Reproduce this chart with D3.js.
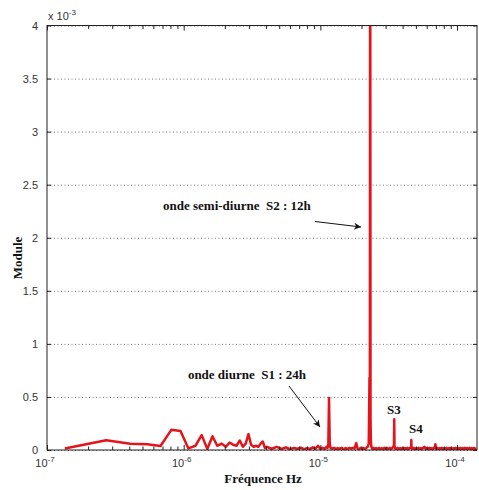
<!DOCTYPE html>
<html>
<head>
<meta charset="utf-8">
<script src="https://d3js.org/d3.v7.min.js"></script>
<style>
body { margin: 0; background: #fff; }
.tick text, .lbl { font-family: 'Liberation Sans', Arial, sans-serif; font-size: 11px; fill: #333; }
.ann { font-family: 'Liberation Serif', 'Times New Roman', serif; font-weight: bold; font-size: 13px; fill: #111; white-space: pre; }
</style>
</head>
<body>
<svg id="chart" width="479" height="490"></svg>
<script>
// spectrum: frequency in micro-Hz, module in units of 1e-3
const freqLow = [0.135, 0.271, 0.406, 0.542, 0.677, 0.812, 0.948, 1.083, 1.219, 1.354,
  1.489, 1.625, 1.760, 1.896, 2.031, 2.166, 2.302, 2.437, 2.573, 2.708,
  2.843, 2.979, 3.114, 3.250, 3.385, 3.520, 3.656, 3.791, 3.927, 4.062];
const moduleLow = [0.015, 0.092, 0.058, 0.055, 0.038, 0.19, 0.18, 0.015, 0.04, 0.14,
  0.01, 0.13, 0.04, 0.06, 0.03, 0.07, 0.05, 0.04, 0.09, 0.03,
  0.06, 0.15, 0.05, 0.03, 0.04, 0.03, 0.06, 0.08, 0.02, 0.03];

const freqHigh = [4.4, 4.8, 5.2, 5.6, 6.0, 6.4, 6.8, 7.2, 7.6, 8.0, 8.4, 8.8, 9.2, 9.6, 10.0, 10.4, 10.8,
  11.1, 11.3, 11.44, 11.57, 11.71, 11.85, 12.2, 12.6, 13.0, 13.4, 13.8, 14.3, 14.8, 15.3, 15.8, 16.3,
  16.8, 17.3, 17.8, 18.3, 18.7, 19.2, 19.7, 20.2, 20.7, 21.2, 21.7, 22.2, 22.6, 22.88, 23.02, 23.15,
  23.29, 23.42, 23.6, 24.0, 24.5, 25.0, 25.6, 26.2, 26.8, 27.4, 28.0, 28.7, 29.4, 30.1, 30.8, 31.5,
  32.2, 32.9, 33.6, 34.2, 34.58, 34.72, 34.86, 35.2, 36.0, 36.8, 37.6, 38.4, 39.2, 40.0, 40.8, 41.6,
  42.4, 43.2, 44.0, 44.8, 45.6, 46.16, 46.3, 46.44, 47.2, 48.2, 49.2, 50.2, 51.2, 52.2, 53.2, 54.2,
  55.2, 56.4, 57.87, 59.0, 60.2, 61.4, 62.6, 63.8, 65.0, 66.2, 67.4, 68.6, 69.44, 70.4, 71.8, 73.2,
  74.6, 76.0, 77.5, 79.0, 80.6, 82.2, 83.8, 85.5, 87.2, 88.9, 90.6, 92.4, 94.2, 96.0, 97.9, 99.8,
  101.7, 103.7, 105.7, 107.8, 109.9, 112.0, 114.2, 116.4, 118.7, 121.0, 123.4, 125.8, 128.3, 130.8,
  133.4, 136.0, 138.9];
const moduleHigh = [0.012, 0.03, 0.01, 0.025, 0.008, 0.02, 0.012, 0.022, 0.008, 0.018, 0.01, 0.025, 0.012, 0.04, 0.01, 0.02, 0.012,
  0.03, 0.02, 0.06, 0.49, 0.07, 0.02, 0.012, 0.02, 0.008, 0.018, 0.01, 0.02, 0.008, 0.018, 0.01, 0.02,
  0.012, 0.02, 0.015, 0.065, 0.015, 0.008, 0.02, 0.01, 0.018, 0.008, 0.02, 0.03, 0.06, 0.68, 0.15, 6.0,
  0.3, 0.09, 0.03, 0.012, 0.02, 0.008, 0.018, 0.01, 0.02, 0.008, 0.018, 0.01, 0.02, 0.008, 0.018, 0.01,
  0.02, 0.008, 0.02, 0.03, 0.05, 0.29, 0.04, 0.015, 0.01, 0.02, 0.008, 0.018, 0.01, 0.02, 0.008, 0.018,
  0.01, 0.02, 0.008, 0.018, 0.02, 0.03, 0.094, 0.025, 0.01, 0.02, 0.008, 0.018, 0.01, 0.02, 0.008, 0.018,
  0.01, 0.02, 0.03, 0.01, 0.018, 0.008, 0.02, 0.01, 0.018, 0.008, 0.02, 0.02, 0.055, 0.012, 0.02, 0.008,
  0.018, 0.01, 0.02, 0.008, 0.018, 0.01, 0.02, 0.008, 0.018, 0.01, 0.02, 0.008, 0.018, 0.01, 0.02, 0.012,
  0.018, 0.008, 0.02, 0.01, 0.018, 0.008, 0.02, 0.01, 0.018, 0.008, 0.02, 0.01, 0.018, 0.008,
  0.02, 0.01, 0.015];

const yTicks = [0, 0.5, 1, 1.5, 2, 2.5, 3, 3.5, 4];
const xDecades = [-7, -6, -5, -4];
const xDomain = [1e-7, 1.4e-4];
const yDomain = [0, 4];

const notes = [
  { text: 'onde semi-diurne  S2 : 12h', x: 163, y: 210, anchor: 'start' },
  { text: 'onde diurne  S1 : 24h', x: 306, y: 379, anchor: 'end' },
  { text: 'S3', x: 387, y: 414, anchor: 'start' },
  { text: 'S4', x: 409, y: 433, anchor: 'start' }
];

const L = 47, R = 477, T = 25.5, B = 450;
const svg = d3.select('#chart');

const x = d3.scaleLog().domain(xDomain).range([L, R]);
const y = d3.scaleLinear().domain(yDomain).range([B, T]);

const points = freqLow.map((f, i) => [f * 1e-6, moduleLow[i]])
  .concat(freqHigh.map((f, i) => [f * 1e-6, moduleHigh[i]]));

svg.append('defs').append('clipPath').attr('id', 'clip')
  .append('rect').attr('x', L).attr('y', T).attr('width', R - L).attr('height', B - T);

// arrow marker
svg.select('defs').append('marker')
  .attr('id', 'arr').attr('viewBox', '0 0 10 10').attr('refX', 10).attr('refY', 5)
  .attr('markerWidth', 9).attr('markerHeight', 7).attr('orient', 'auto')
  .attr('markerUnits', 'userSpaceOnUse')
  .append('path').attr('d', 'M0,0 L10,5 L0,10 L3,5 z').attr('fill', '#111');

// horizontal dotted grid
svg.append('g')
  .attr('transform', 'translate(' + L + ',0)')
  .call(d3.axisLeft(y).tickValues(yTicks).tickSize(-(R - L)).tickFormat(''))
  .call(g => g.select('.domain').remove())
  .selectAll('line').attr('stroke', '#777').attr('stroke-dasharray', '1,2.5');

// spectrum line
svg.append('path')
  .datum(points)
  .attr('clip-path', 'url(#clip)')
  .attr('fill', 'none')
  .attr('stroke', '#e3141b')
  .attr('stroke-width', 2.5)
  .attr('stroke-linejoin', 'round')
  .attr('d', d3.line().x(d => x(d[0])).y(d => y(d[1])));

// box
svg.append('rect').attr('x', L).attr('y', T).attr('width', R - L).attr('height', B - T)
  .attr('fill', 'none').attr('stroke', '#222').attr('stroke-width', 1);

// y axes (ticks inward)
svg.append('g').attr('transform', 'translate(' + L + ',0)')
  .call(d3.axisLeft(y).tickValues(yTicks).tickSize(-4).tickPadding(9).tickFormat(d3.format('~g')))
  .call(g => g.select('.domain').remove())
  .call(g => g.selectAll('line').attr('stroke', '#222'));
svg.append('g').attr('transform', 'translate(' + R + ',0)')
  .call(d3.axisRight(y).tickValues(yTicks).tickSize(-4).tickFormat(''))
  .call(g => g.select('.domain').remove())
  .call(g => g.selectAll('line').attr('stroke', '#222'));

// x axes: log ticks, inward
const allX = x.ticks().filter(v => v >= xDomain[0] && v <= xDomain[1]);
const isMajor = v => Math.abs(Math.log10(v) - Math.round(Math.log10(v))) < 1e-9;
svg.append('g').attr('transform', 'translate(0,' + B + ')')
  .call(d3.axisBottom(x).tickValues(allX).tickFormat('').tickSizeOuter(0))
  .call(g => g.select('.domain').remove())
  .call(g => g.selectAll('line').attr('stroke', '#222').attr('y2', d => isMajor(d) ? -5 : -3.5));
svg.append('g').attr('transform', 'translate(0,' + T + ')')
  .call(d3.axisTop(x).tickValues(allX).tickFormat('').tickSizeOuter(0))
  .call(g => g.select('.domain').remove())
  .call(g => g.selectAll('line').attr('stroke', '#222').attr('y2', d => isMajor(d) ? 5 : 3.5));

// decade labels 10^n
const dl = svg.append('g').selectAll('text').data(xDecades).enter().append('text')
  .attr('class', 'lbl').attr('x', d => x(Math.pow(10, d)) - 2).attr('y', 467)
  .attr('text-anchor', 'middle');
dl.append('tspan').text('10');
dl.append('tspan').attr('dy', -5).style('font-size', '8px').text(d => d);

// scale factor
const sf = svg.append('text').attr('class', 'lbl').attr('x', L + 1).attr('y', 20);
sf.append('tspan').text('x 10');
sf.append('tspan').attr('dy', -5).style('font-size', '8px').text('-3');

// axis titles
svg.append('text').attr('class', 'ann').attr('x', 263).attr('y', 483)
  .attr('text-anchor', 'middle').text('Fréquence Hz');
svg.append('text').attr('class', 'ann')
  .attr('transform', 'translate(22,258) rotate(-90)')
  .attr('text-anchor', 'middle').text('Module');

// annotations
svg.append('g').selectAll('text').data(notes).enter().append('text')
  .attr('class', 'ann').attr('x', d => d.x).attr('y', d => d.y)
  .attr('text-anchor', d => d.anchor).text(d => d.text);

svg.append('line').attr('x1', 315).attr('y1', 221.5).attr('x2', 361).attr('y2', 227)
  .attr('stroke', '#111').attr('stroke-width', 1).attr('marker-end', 'url(#arr)');
svg.append('line').attr('x1', 289).attr('y1', 386).attr('x2', 320).attr('y2', 427)
  .attr('stroke', '#111').attr('stroke-width', 1).attr('marker-end', 'url(#arr)');
</script>
</body>
</html>
